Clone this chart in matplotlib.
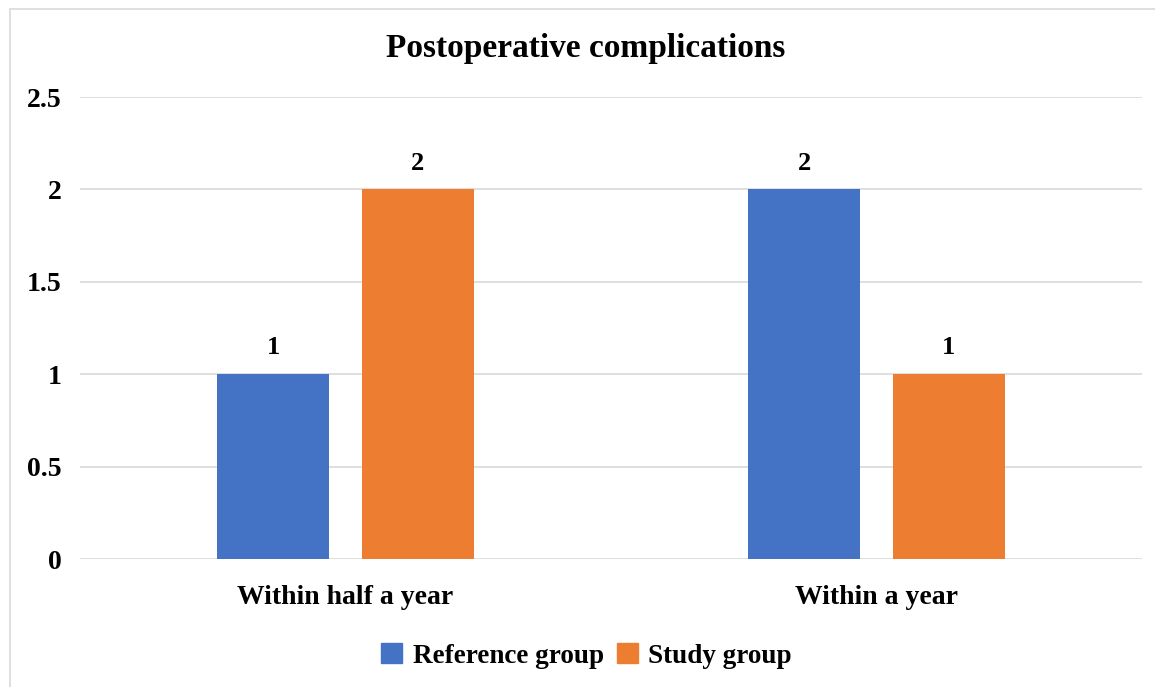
import matplotlib
matplotlib.use('Agg')
import matplotlib.pyplot as plt
from matplotlib.patches import Rectangle, Patch
import numpy as np

categories = ['Within half a year', 'Within a year']
reference_group = [1, 2]
study_group = [2, 1]
yticks = [0, 0.5, 1, 1.5, 2, 2.5]
ytick_labels = ['0', '0.5', '1', '1.5', '2', '2.5']

plt.rcParams['font.family'] = ['Liberation Serif', 'DejaVu Serif']
plt.rcParams['font.weight'] = 'bold'

fig = plt.figure(figsize=(11.55, 6.87), dpi=100)
ax = fig.add_axes([0.0693, 0.1863, 0.9195, 0.6725])

# outer chart frame
fig.patches.append(Rectangle((10 / 1155, -0.01), 1.0, 1 - 9 / 687 + 0.01,
                             transform=fig.transFigure, fill=False,
                             edgecolor='#d9d9d9', linewidth=1.2))

x = np.arange(len(categories))
w = 0.211
off = 0.136
b1 = ax.bar(x - off, reference_group, w, color='#4472C4', label='Reference group', zorder=3)
b2 = ax.bar(x + off, study_group, w, color='#ED7D31', label='Study group', zorder=3)

for bars in (b1, b2):
    for b in bars:
        ax.text(b.get_x() + b.get_width() / 2, b.get_height() + 0.08, f"{b.get_height():g}",
                ha='center', va='bottom', fontsize=19, fontweight='bold')

ax.set_xlim(-0.5, 1.5)
ax.set_ylim(0, 2.5)
ax.set_yticks(yticks)
ax.set_yticklabels(ytick_labels, fontsize=20, fontweight='bold')
ax.set_xticks(x)
ax.set_xticklabels(categories, fontsize=20, fontweight='bold')
ax.tick_params(axis='both', length=0)
ax.tick_params(axis='y', pad=13)
ax.tick_params(axis='x', pad=19)
ax.grid(axis='y', color='#d9d9d9', linewidth=1.2, zorder=0)
for s in ax.spines.values():
    s.set_visible(False)

fig.text(0.507, 0.93, 'Postoperative complications', ha='center', va='center',
         fontsize=24, fontweight='bold')

handles = [Patch(color='#4472C4'), Patch(color='#ED7D31')]
fig.legend(handles, ['Reference group', 'Study group'], loc='center', ncol=2,
           bbox_to_anchor=(0.508, 0.045), frameon=False, fontsize=19.5,
           handlelength=0.75, handleheight=0.75, handletextpad=0.4, columnspacing=0.5)

fig.savefig('out.png', dpi=100)
